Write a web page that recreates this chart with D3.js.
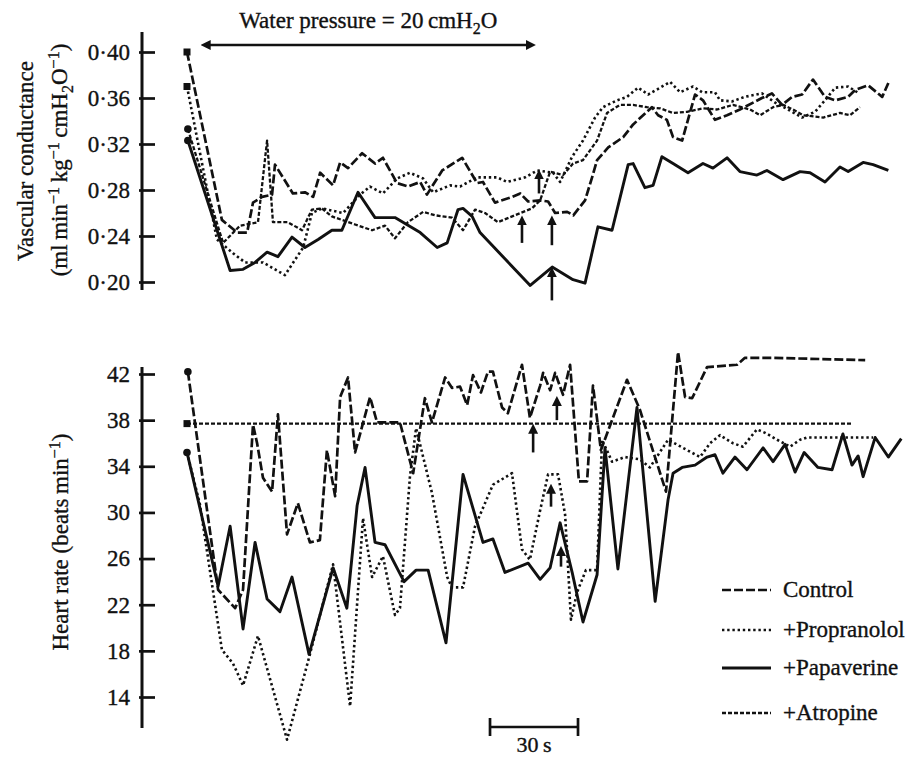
<!DOCTYPE html>
<html>
<head>
<meta charset="utf-8">
<script src="https://cdn.jsdelivr.net/npm/d3@7"></script>
<style>
body { margin: 0; background: #fff; }
svg { display: block; font-family: "Liberation Serif", "DejaVu Serif", serif; }
text { stroke: #111; stroke-width: 0.35px; }
</style>
</head>
<body>
<div id="chart"></div>
<script>
"use strict"

/* DATA
 * [time (s), value]
 */

const seriesNames = ["Control", "+Propranolol", "+Papaverine", "+Atropine"];

const condTicks = [0.20, 0.24, 0.28, 0.32, 0.36, 0.40];
const rateTicks = [14, 18, 22, 26, 30, 34, 38, 42];

// vascular conductance (ml min-1 kg-1 cmH2O-1)
const condControl = [[0,0.400],[11.9,0.254],[17.1,0.243],[20.5,0.243],[22.5,0.269],[25.6,0.274],[29,0.276],
    [30,0.302],[36.1,0.277],[40.2,0.278],[43,0.274],[45.4,0.295],[49.8,0.284],[52.2,0.304],[54.9,0.299],
    [59.7,0.312],[64.1,0.303],[66.8,0.308],[71.6,0.286],[75.4,0.283],[79.5,0.287],[81.8,0.276],[87,0.297],
    [93.8,0.308],[98.9,0.286],[100.9,0.287],[105,0.269],[110.8,0.274],[113.6,0.277],[116.3,0.270],
    [120.4,0.271],[123.1,0.270],[125.5,0.260],[129.6,0.261],[131.7,0.258],[135.7,0.271],[138.1,0.291],
    [139.8,0.306],[143.6,0.317],[148.7,0.326],[152.1,0.337],[155.5,0.345],[158.5,0.352],[160.6,0.345],
    [163.6,0.341],[165.7,0.326],[168.8,0.323],[173.2,0.363],[175.9,0.358],[180,0.341],[184.1,0.345],
    [188.5,0.350],[196,0.360],[199.4,0.364],[202.9,0.354],[206.3,0.361],[209.7,0.363],[213.4,0.376],
    [217.5,0.361],[221,0.358],[225.4,0.361],[227.8,0.367],[232.2,0.371],[237,0.361],[239.1,0.373]];

const condPropranolol = [[0,0.370],[10.2,0.237],[15.7,0.225],[19.8,0.217],[25.9,0.217],[33.4,0.206],
    [39.6,0.230],[42.6,0.260],[46,0.264],[53.2,0.260],[59,0.276],[62.4,0.283],[66.8,0.277],[71.6,0.290],
    [76,0.295],[80.5,0.290],[83.9,0.278],[89.7,0.284],[93.1,0.283],[98.9,0.291],[105.7,0.291],[109.1,0.287],
    [115.3,0.291],[119.4,0.297],[124.8,0.295],[127.2,0.287],[131.3,0.309],[135,0.323],[139.1,0.343],
    [141.8,0.352],[146.6,0.358],[150,0.361],[153.8,0.369],[157.2,0.363],[161.3,0.369],[164.7,0.374],
    [168.1,0.365],[172.5,0.370],[175.6,0.365],[180,0.365],[181.7,0.358],[185.8,0.357],[190.2,0.361],
    [196,0.364],[200.5,0.356],[204.9,0.350],[209.7,0.343],[214.1,0.348],[217.5,0.358],[221,0.369],
    [225.4,0.370],[228.5,0.365]];

const condPapaverine = [[0.3,0.323],[14.7,0.210],[19.1,0.211],[23.2,0.217],[27.3,0.226],[31,0.222],
    [35.8,0.239],[40.2,0.230],[44.7,0.237],[49.4,0.245],[52.8,0.245],[58.3,0.278],[64.1,0.256],[70.9,0.256],
    [79.5,0.243],[85.3,0.230],[88.7,0.234],[92.4,0.263],[94.1,0.264],[97.2,0.257],[99.9,0.243],[117,0.197],
    [124.5,0.213],[131.6,0.202],[135.7,0.199],[140.1,0.248],[144.9,0.245],[150.4,0.302],[152.1,0.303],
    [156.1,0.282],[158.9,0.284],[161.9,0.309],[165.7,0.303],[170.8,0.295],[175.9,0.303],[179.3,0.299],
    [184.1,0.308],[188.5,0.296],[194.3,0.293],[197.7,0.297],[203.2,0.289],[209,0.296],[212.4,0.295],
    [217.5,0.287],[222.6,0.300],[225.4,0.296],[230.5,0.304],[233.9,0.302],[239.1,0.297]];

const condAtropine = [[0.3,0.333],[12.3,0.234],[18.1,0.249],[24.2,0.252],[27.3,0.323],[29.3,0.252],
    [34.4,0.252],[39.2,0.245],[42.6,0.263],[46,0.264],[49.4,0.257],[52.8,0.254],[57.3,0.250],[63.1,0.245],
    [67.5,0.249],[70.9,0.238],[75.3,0.252],[80.5,0.261],[84.6,0.258],[90.3,0.256],[94.1,0.245],[98.2,0.263],
    [101.6,0.260],[106,0.252],[111.8,0.258],[117.6,0.264],[120.4,0.271],[123.8,0.296],[128.2,0.293],
    [131.6,0.303],[135,0.306],[139.8,0.323],[143.2,0.347],[147.6,0.354],[152.1,0.354],[156.8,0.352],
    [161.3,0.351],[165.7,0.347],[170.5,0.348],[175.9,0.351],[180.7,0.350],[186.1,0.354],[191.9,0.350],
    [195.4,0.345],[199.8,0.352],[203.2,0.354],[206.6,0.350],[210.1,0.345],[216.9,0.343],[222.6,0.347],
    [226,0.345],[229.4,0.352]];

// heart rate (beats min-1)
const rateControl = [[0.3,42.2],[10.6,23.3],[16.4,21.7],[19.1,23.3],[22.5,37.6],[23.9,36.0],[25.9,33.0],
    [29,31.8],[31,38.5],[34.1,28.1],[37.8,30.8],[41.9,27.4],[45.3,27.6],[47.7,35.4],[50.5,31.4],[52.2,40.0],
    [54.9,41.7],[57.3,35.2],[62.4,40.0],[64.8,37.8],[72.6,37.8],[77.1,33.4],[81.1,39.9],[83.5,37.8],
    [88,41.7],[90.3,40.8],[93.1,40.9],[95.5,39.3],[97.5,41.9],[100.2,40.4],[102.6,42.2],[104.3,42.2],
    [107.4,39.1],[109.4,38.6],[114.2,42.8],[116.9,38.2],[120.4,41.0],[121.4,42.1],[123.8,40.6],
    [125.5,42.1],[128.2,40.2],[130.6,42.8],[133.6,32.7],[136.4,32.7],[138.4,41.0],[141.1,35.4],
    [150,41.5],[154.4,38.9],[163.3,31.8],[167.4,43.9],[169.8,40.0],[172.2,39.9],[177.3,42.6],
    [187.5,42.8],[190.2,43.4],[199.8,43.4],[231.2,43.2]];

const ratePropranolol = [[0,35.2],[4.4,30.7],[11.9,18.1],[15.7,16.9],[19.1,15.0],[24.2,19.3],[34.1,10.3],
    [41.9,17.7],[49.8,25.5],[55.6,13.2],[60,29.5],[63.1,24.4],[66.8,26.2],[70.9,21.1],[72.6,21.7],
    [76,33.1],[78.1,37.3],[83.5,31.7],[88.7,24.4],[90.3,23.5],[94.1,23.5],[98.2,28.8],[104.3,32.4],
    [110.8,33.4],[114.2,26.8],[116.9,25.9],[120.4,30.2],[123.1,33.3],[126.5,33.3],[128.9,29.8],
    [130.9,20.7],[133,23.1],[136,25.0],[139.8,25.0],[141.5,36.3],[144.9,34.4],[149.3,34.8],[154.4,34.6],
    [157.8,33.9],[164,36.3],[170.5,35.4],[174.9,34.8],[178.3,36.0],[181.7,36.7],[186.1,36.0],[189.5,35.7],
    [194.3,37.2],[197.1,36.9],[201.2,36.3],[205.6,35.7],[209,36.3],[211.4,36.5],[222.6,36.5],[233.9,36.5]];

const ratePapaverine = [[0,35.2],[10.6,23.6],[14.7,28.8],[19.1,19.9],[23.2,27.4],[27.3,22.5],[31.7,21.4],
    [35.8,24.4],[41.6,17.7],[49.8,25.2],[54.5,21.7],[58,30.6],[60.7,33.9],[64.1,27.4],[67.5,27.2],
    [74,24.0],[78.1,25.0],[82.2,25.0],[88.3,18.7],[94.1,33.3],[100.9,27.4],[104.3,27.7],[108.4,24.8],
    [116.3,25.6],[120.4,24.2],[123.8,25.2],[127.2,29.1],[131.3,24.8],[135,20.5],[139.8,24.6],[142.5,35.6],
    [146.9,25.1],[153.4,39.1],[159.6,22.3],[164,31.1],[165.7,33.4],[168.8,33.9],[173.2,34.1],[177.3,34.8],
    [180,35.0],[182.7,33.4],[186.8,34.8],[190.9,33.7],[196.4,35.6],[199.8,34.4],[203.9,35.9],[207.3,33.5],
    [210.4,35.2],[215.1,33.9],[219.9,33.7],[223.6,36.8],[226.7,34.1],[228.8,34.9],[230.5,33.1],
    [234.6,36.5],[239.1,34.8],[243.5,36.4]];

const rateAtropine = [[0,37.7],[75,37.7],[150,37.7],[227,37.7]];

// small arrows: [time, tip, tail]
const condArrows = [[114.2,0.257,0.234],[124.4,0.257,0.232],[124.4,0.212,0.184],[120,0.297,0.277]];
const rateArrows = [[118,37.6,35.2],[126.1,40.0,38.0],[124.1,32.4,30.5],[127.5,27.0,25.3]];

const pressureSpan = [5, 118.6];    // water pressure on (s)
const scaleBar = [103.3, 133.3];    // 30 s

/* STYLES
 */
const lineStyles = {
    "Control":      {dash: "9,3", width: 2.7},
    "+Propranolol": {dash: "2.4,2.8", width: 2.6},
    "+Papaverine":  {dash: null, width: 2.9},
    "+Atropine":    {dash: "4,2", width: 2.3}
};
const ink = "#111";
const fontSize = 23;

/* CHART
 */
const svg = d3.select("#chart").append("svg")
    .attr("width", 914)
    .attr("height", 758);

const x = d3.scaleLinear().domain([0, 240]).range([187, 891]);
const yCond = d3.scaleLinear().domain([0.20, 0.40]).range([282, 52]);
const yRate = d3.scaleLinear().domain([14, 42]).range([697, 374]);

svg.append("defs").append("marker")
    .attr("id", "head")
    .attr("viewBox", "0 0 10 10")
    .attr("refX", 5).attr("refY", 5)
    .attr("markerWidth", 10).attr("markerHeight", 10)
    .attr("markerUnits", "userSpaceOnUse")
    .attr("orient", "auto-start-reverse")
    .append("path")
    .attr("d", "M0,0L10,5L0,10z")
    .attr("fill", ink);

function drawAxis(y, ticks, fmt, top, bottom) {
    const g = svg.append("g")
        .attr("transform", "translate(142,0)")
        .call(d3.axisLeft(y)
            .tickValues(ticks)
            .tickFormat(fmt)
            .tickSize(-13)
            .tickSizeOuter(0)
            .tickPadding(12));
    g.select(".domain").remove();
    g.selectAll(".tick line")
        .attr("x1", -3)
        .attr("stroke", ink)
        .attr("stroke-width", 2.7);
    g.selectAll(".tick text")
        .attr("font-family", "Liberation Serif, serif")
        .attr("font-size", fontSize)
        .attr("fill", ink);
    g.append("line")
        .attr("y1", top).attr("y2", bottom)
        .attr("stroke", ink)
        .attr("stroke-width", 3);
}

drawAxis(yCond, condTicks, (d) => d3.format(".2f")(d).replace(".", "\u00b7"),
         yCond(0.40) - 20, yCond(0.20) + 8);
drawAxis(yRate, rateTicks, d3.format("d"), yRate(42) - 7, yRate(14) + 31);

function drawSeries(y, data, name, marker) {
    const style = lineStyles[name];
    const line = d3.line()
        .x((d) => x(d[0]))
        .y((d) => y(d[1]));
    svg.append("path")
        .datum(data)
        .attr("d", line)
        .attr("fill", "none")
        .attr("stroke", ink)
        .attr("stroke-width", style.width)
        .attr("stroke-linejoin", "round")
        .attr("stroke-dasharray", style.dash);
    const p = data[0];
    if (marker == "square") {
        svg.append("rect")
            .attr("x", x(p[0]) - 3.5).attr("y", y(p[1]) - 3.5)
            .attr("width", 7).attr("height", 7)
            .attr("fill", ink);
    } else if (marker == "circle") {
        svg.append("circle")
            .attr("cx", x(p[0])).attr("cy", y(p[1]))
            .attr("r", 3.8)
            .attr("fill", ink);
    }
}

drawSeries(yCond, condControl, "Control", "square");
drawSeries(yCond, condPropranolol, "+Propranolol", "square");
drawSeries(yCond, condAtropine, "+Atropine", "circle");
drawSeries(yCond, condPapaverine, "+Papaverine", "circle");

drawSeries(yRate, rateAtropine, "+Atropine", "square");
drawSeries(yRate, ratePropranolol, "+Propranolol", null);
drawSeries(yRate, rateControl, "Control", "circle");
drawSeries(yRate, ratePapaverine, "+Papaverine", "circle");

function drawArrows(y, arrows) {
    svg.selectAll(null)
        .data(arrows)
        .enter().append("line")
        .attr("x1", (d) => x(d[0])).attr("x2", (d) => x(d[0]))
        .attr("y1", (d) => y(d[2])).attr("y2", (d) => y(d[1]) + 4)
        .attr("stroke", ink)
        .attr("stroke-width", 2.6)
        .attr("marker-end", "url(#head)");
}
drawArrows(yCond, condArrows);
drawArrows(yRate, rateArrows);

/* ANNOTATIONS
 */

// water pressure span, arrows both ways
svg.append("line")
    .attr("x1", x(pressureSpan[0]) + 4).attr("x2", x(pressureSpan[1]) - 4)
    .attr("y1", 45).attr("y2", 45)
    .attr("stroke", ink)
    .attr("stroke-width", 2.4)
    .attr("marker-start", "url(#head)")
    .attr("marker-end", "url(#head)");

function richText(sel, parts) {
    let shift = 0;
    parts.forEach(([txt, mode]) => {
        const target = mode == "sup" ? -8 : mode == "sub" ? 6 : 0;
        sel.append("tspan")
            .attr("dy", target - shift)
            .attr("font-size", mode ? 16 : null)
            .text(txt);
        shift = target;
    });
}

const title = svg.append("text")
    .attr("x", x(pressureSpan[0] + (pressureSpan[1] - pressureSpan[0]) / 2))
    .attr("y", 28)
    .attr("text-anchor", "middle")
    .attr("font-size", fontSize)
    .attr("fill", ink);
richText(title, [["Water pressure = 20\u2009cmH"], ["2", "sub"], ["O"]]);

svg.append("text")
    .attr("transform", "translate(33,161) rotate(-90)")
    .attr("text-anchor", "middle")
    .attr("font-size", fontSize)
    .attr("fill", ink)
    .text("Vascular conductance");

const yLab2 = svg.append("text")
    .attr("transform", "translate(67,160) rotate(-90)")
    .attr("text-anchor", "middle")
    .attr("font-size", fontSize)
    .attr("fill", ink);
richText(yLab2, [["(ml\u2009min"], ["\u22121", "sup"], ["\u2009kg"], ["\u22121", "sup"],
                 ["\u2009cmH"], ["2", "sub"], ["O"], ["\u22121", "sup"], [")"]]);

const yLab3 = svg.append("text")
    .attr("transform", "translate(68,542) rotate(-90)")
    .attr("text-anchor", "middle")
    .attr("font-size", fontSize)
    .attr("fill", ink);
richText(yLab3, [["Heart rate (beats\u2009min"], ["\u22121", "sup"], [")"]]);

// scale bar
const barY = 727;
svg.append("line")
    .attr("x1", x(scaleBar[0])).attr("x2", x(scaleBar[1]))
    .attr("y1", barY).attr("y2", barY)
    .attr("stroke", ink).attr("stroke-width", 2.7);
svg.selectAll(null)
    .data(scaleBar)
    .enter().append("line")
    .attr("x1", (d) => x(d)).attr("x2", (d) => x(d))
    .attr("y1", barY - 9).attr("y2", barY + 9)
    .attr("stroke", ink).attr("stroke-width", 2.7);
svg.append("text")
    .attr("x", x((scaleBar[0] + scaleBar[1]) / 2))
    .attr("y", 752)
    .attr("text-anchor", "middle")
    .attr("font-size", fontSize - 1)
    .attr("fill", ink)
    .text("30\u2009s");

/* LEGEND
 */
const legendRows = [590, 630, 668, 713];
const legend = svg.selectAll(".legend")
    .data(seriesNames)
    .enter().append("g")
    .attr("class", "legend")
    .attr("transform", (d, i) => `translate(722,${legendRows[i]})`);

legend.append("line")
    .attr("x1", 0).attr("x2", 49)
    .attr("stroke", ink)
    .attr("stroke-width", (d) => lineStyles[d].width)
    .attr("stroke-dasharray", (d) => lineStyles[d].dash);

legend.append("text")
    .attr("x", 61)
    .attr("y", 7)
    .attr("font-size", fontSize)
    .attr("fill", ink)
    .text((d) => d);
</script>
</body>
</html>
